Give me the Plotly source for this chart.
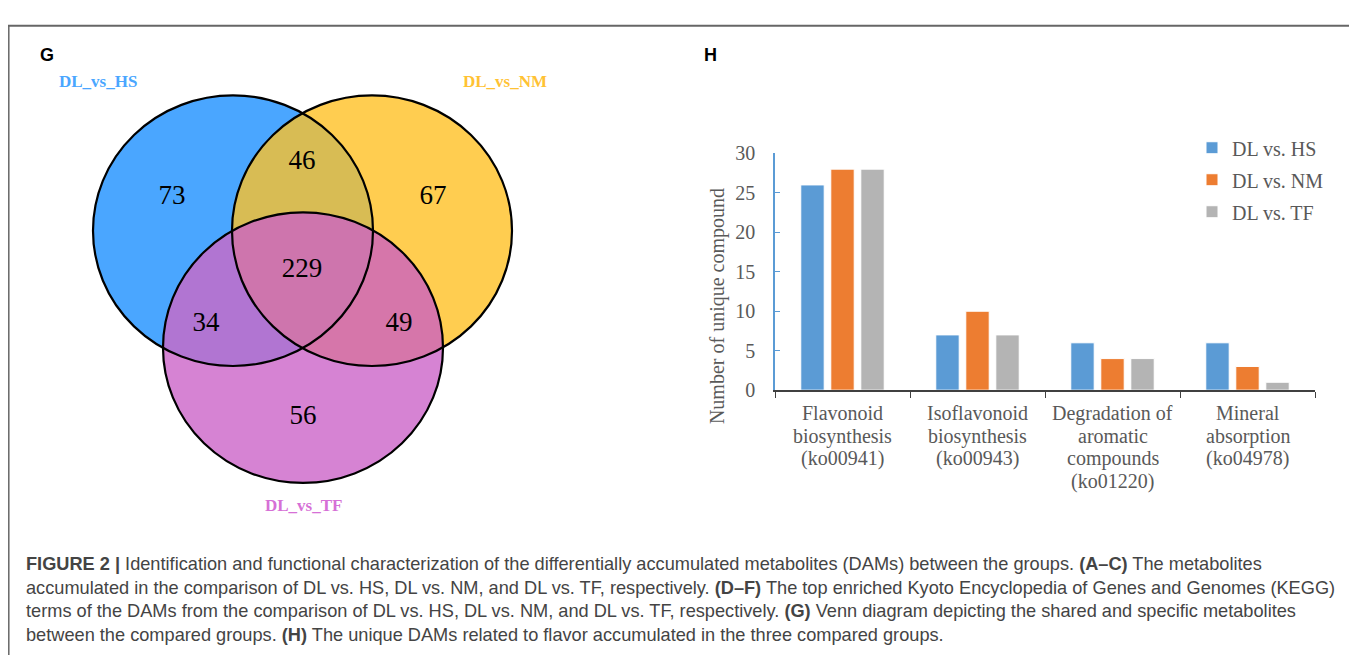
import numpy as np
import plotly.graph_objects as go

# ---------------- data ----------------
categories = ["Flavonoid<br>biosynthesis<br>(ko00941)",
              "Isoflavonoid<br>biosynthesis<br>(ko00943)",
              "Degradation of<br>aromatic<br>compounds<br>(ko01220)",
              "Mineral<br>absorption<br>(ko04978)"]
series_names = ["DL vs. HS", "DL vs. NM", "DL vs. TF"]
dl_vs_hs = [26, 7, 6, 6]
dl_vs_nm = [28, 10, 4, 3]
dl_vs_tf = [28, 7, 4, 1]
y_ticks = [0, 5, 10, 15, 20, 25, 30]

venn_sets = ["DL_vs_HS", "DL_vs_NM", "DL_vs_TF"]
# region membership (HS, NM, TF) -> count
venn_regions = [(1, 0, 0), (0, 1, 0), (0, 0, 1), (1, 1, 0), (1, 0, 1), (0, 1, 1), (1, 1, 1)]
venn_counts = [73, 67, 56, 46, 34, 49, 229]

caption_lines = [
    "<b>FIGURE 2 |</b> Identification and functional characterization of the differentially accumulated metabolites (DAMs) between the groups. <b>(A–C)</b> The metabolites",
    "accumulated in the comparison of DL vs. HS, DL vs. NM, and DL vs. TF, respectively. <b>(D–F)</b> The top enriched Kyoto Encyclopedia of Genes and Genomes (KEGG)",
    "terms of the DAMs from the comparison of DL vs. HS, DL vs. NM, and DL vs. TF, respectively. <b>(G)</b> Venn diagram depicting the shared and specific metabolites",
    "between the compared groups. <b>(H)</b> The unique DAMs related to flavor accumulated in the three compared groups.",
]

# ---------------- styles / layout ----------------
W, H = 1357, 658
XOFF, YOFF = 8, 0  # page offset of the figure inside the screenshot
bar_colors = ["#5B9BD5", "#ED7D31", "#B4B4B4"]
serif = "Liberation Serif, Times New Roman, serif"
gray_txt = "#595959"

venn_centers = [(233, 219), (372, 219), (303, 340)]
venn_r = 140
venn_label_pos = [(172, 184), (433, 184), (303, 412), (302, 148), (206, 316), (399, 316), (302, 260)]
region_colors = ["#4AA6FF", "#FFCD50", "#D683D3", "#D8BC54", "#B175D2", "#D676AA", "#CE75AD"]
set_label_pos = [(98, 65), (505, 65), (303, 503)]
set_label_colors = ["#4AA6FF", "#FFC233", "#D670D6"]


def px_x(x):
    return (x - XOFF) / W


def px_y(y):
    return 1 - (y - YOFF) / H


fig = go.Figure()

# ---------------- bar chart (H) ----------------
for name, vals, col in zip(series_names, [dl_vs_hs, dl_vs_nm, dl_vs_tf], bar_colors):
    fig.add_trace(go.Bar(x=categories, y=vals, name=name,
                         marker=dict(color=col, line=dict(color="white", width=1)),
                         legendgroup=name, xaxis="x", yaxis="y"))

# ---------------- venn (G) ----------------
def region_path(member, ref, n=3000):
    pts = []
    th = np.linspace(0, 2 * np.pi, n, endpoint=False)
    for i, (cx, cy) in enumerate(venn_centers):
        xs = cx + venn_r * np.cos(th)
        ys = cy + venn_r * np.sin(th)
        ok = np.ones(n, dtype=bool)
        for j, (ox, oy) in enumerate(venn_centers):
            if j == i:
                continue
            ins = (xs - ox) ** 2 + (ys - oy) ** 2 < venn_r ** 2
            ok &= (ins == bool(member[j]))
        pts.extend(zip(xs[ok], ys[ok]))
    pts = np.array(pts)
    ang = np.arctan2(pts[:, 1] - ref[1], pts[:, 0] - ref[0])
    pts = pts[np.argsort(ang)]
    return "M " + " L ".join(f"{x:.2f},{y:.2f}" for x, y in pts) + " Z"


shapes = []
for member, ref, col in zip(venn_regions, venn_label_pos, region_colors):
    shapes.append(dict(type="path", path=region_path(member, ref), xref="x2", yref="y2",
                       fillcolor=col, line=dict(width=0), layer="below"))
for (cx, cy) in venn_centers:
    shapes.append(dict(type="circle", xref="x2", yref="y2", x0=cx - venn_r, x1=cx + venn_r,
                       y0=cy - venn_r, y1=cy + venn_r, line=dict(color="black", width=2.2),
                       fillcolor="rgba(0,0,0,0)", layer="below"))

fig.add_trace(go.Scatter(x=[p[0] for p in venn_label_pos], y=[p[1] for p in venn_label_pos],
                         text=[str(c) for c in venn_counts], mode="text",
                         textfont=dict(family=serif, size=27, color="black"),
                         xaxis="x2", yaxis="y2", showlegend=False, hoverinfo="skip"))

annotations = []
for name, pos, col in zip(venn_sets, set_label_pos, set_label_colors):
    annotations.append(dict(text=f"<b>{name}</b>", x=pos[0], y=pos[1], xref="x2", yref="y2",
                            xanchor="center", yanchor="middle", showarrow=False,
                            font=dict(family=serif, size=17, color=col)))

# panel letters
for letter, x in [("G", 47), ("H", 710)]:
    annotations.append(dict(text=f"<b>{letter}</b>", x=px_x(x), y=px_y(37), xref="paper", yref="paper",
                            xanchor="center", yanchor="middle", showarrow=False,
                            font=dict(family="Liberation Sans, Arial, sans-serif", size=18, color="black")))

# x category labels (multi-line)
for cat in categories:
    for k, line in enumerate(cat.split("<br>")):
        annotations.append(dict(text=line, x=cat, y=px_y(408 + 23.5 * k), xref="x", yref="paper",
                                xanchor="center", yanchor="middle", showarrow=False,
                                font=dict(family=serif, size=20, color=gray_txt)))

# y axis title
annotations.append(dict(text="Number of unique compound", x=px_x(717), y=px_y(297), xref="paper", yref="paper",
                        xanchor="center", yanchor="middle", textangle=-90, showarrow=False,
                        font=dict(family=serif, size=20, color=gray_txt)))

# caption
for k, line in enumerate(caption_lines):
    annotations.append(dict(text=line, x=px_x(24), y=px_y(564 + 24.3 * k), xref="paper", yref="paper",
                            xanchor="left", yanchor="middle", showarrow=False,
                            font=dict(family="Liberation Sans, Arial, sans-serif",
                                      size=18.2, color="#444444")))

# frame
frame_col = "#666666"
shapes += [
    dict(type="line", xref="paper", yref="paper", x0=0, x1=px_x(1355.5), y0=px_y(7), y1=px_y(7),
         line=dict(color=frame_col, width=2)),
    dict(type="line", xref="paper", yref="paper", x0=0.8 / W, x1=0.8 / W, y0=px_y(7), y1=0,
         line=dict(color=frame_col, width=1.5)),
    dict(type="line", xref="paper", yref="paper", x0=px_x(1355.5), x1=px_x(1355.5), y0=px_y(7), y1=0,
         line=dict(color=frame_col, width=2)),
]

fig.update_layout(
    width=W, height=H, margin=dict(l=0, r=0, t=0, b=0),
    paper_bgcolor="white", plot_bgcolor="rgba(0,0,0,0)",
    barmode="group", bargap=0.333, bargroupgap=0.22,
    showlegend=True,
    legend=dict(x=px_x(1192), y=px_y(113), xanchor="left", yanchor="top",
                font=dict(family=serif, size=20, color=gray_txt), itemwidth=30,
                tracegroupgap=3, bgcolor="rgba(0,0,0,0)"),
    xaxis=dict(domain=[px_x(775), px_x(1315)], anchor="y", type="category",
               showline=True, linecolor="#404040", linewidth=1.5, ticks="outside", tickson="boundaries",
               ticklen=6, tickcolor="#404040", showticklabels=False, showgrid=False, fixedrange=True),
    yaxis=dict(domain=[px_y(384), px_y(139)], anchor="x", range=[0, 30], tickvals=y_ticks,
               showline=True, linecolor="#5B9BD5", linewidth=1.5, ticks="inside", ticklen=5,
               tickcolor="#5B9BD5", showgrid=False, zeroline=False, ticklabelstandoff=14,
               tickfont=dict(family=serif, size=20, color=gray_txt), fixedrange=True),
    xaxis2=dict(domain=[0, 1], anchor="y2", range=[XOFF, W + XOFF], visible=False, fixedrange=True),
    yaxis2=dict(domain=[0, 1], anchor="x2", range=[H + YOFF, YOFF], visible=False, fixedrange=True),
    shapes=shapes, annotations=annotations,
)

fig.write_html("out.html")
